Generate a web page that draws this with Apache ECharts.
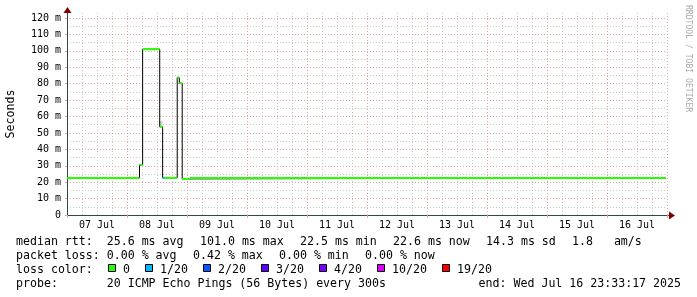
<!DOCTYPE html>
<html><head><meta charset="utf-8">
<script src="https://cdn.jsdelivr.net/npm/echarts@6/dist/echarts.min.js"></script>
<style>html,body{margin:0;padding:0;background:#fff}#c{width:697px;height:297px}</style>
</head><body><div id="c"></div>
<script>
// ---- data ----
const segmentStarts = ['2025-07-07 00:00','2025-07-08 05:00','2025-07-08 06:15','2025-07-08 13:05','2025-07-08 14:15','2025-07-08 14:55','2025-07-08 20:05','2025-07-08 20:55','2025-07-08 22:05','2025-07-09 01:10'];
const seriesEnd = '2025-07-16 23:33';
const medianMs = [22.6, 30.5, 101.0, 53.7, 22.6, 22.6, 83.7, 80.3, 22.0, 22.6];
const segmentLoss = [0, 0, 0, 0, 1, 0, 0, 0, 0, 0];          // index into lossLabels
const smokeTopMs = [null, null, null, 57.3, null, null, null, null, null, null];
const axisStart = '2025-07-07 00:00';
const axisEnd = '2025-07-17 00:00';
const dayLabels = ['07 Jul','08 Jul','09 Jul','10 Jul','11 Jul','12 Jul','13 Jul','14 Jul','15 Jul','16 Jul'];
const yTickLabels = ['0','10 m','20 m','30 m','40 m','50 m','60 m','70 m','80 m','90 m','100 m','110 m','120 m'];
const lossLabels = ['0','1/20','2/20','3/20','4/20','10/20','19/20'];
const lossColors = ['#26ff00','#00b8ff','#0059ff','#5e00ff','#7e00ff','#dd00ff','#ff0000'];
const rttRow = ['median rtt:  25.6 ms avg','101.0 ms max','22.5 ms min','22.6 ms now','14.3 ms sd','1.8   am/s'];
const lossRow = ['packet loss: 0.00 % avg','0.42 % max','0.00 % min','0.00 % now'];
const lossColorTitle = 'loss color:';
const probeText = 'probe:       20 ICMP Echo Pings (56 Bytes) every 300s';
const endText = 'end: Wed Jul 16 23:33:17 2025';
const yAxisName = 'Seconds';
const watermark = 'RRDTOOL / TOBI OETIKER';

// ---- helpers ----
const HOUR = 3600000, DAY = 24 * HOUR;
function ts(s){const [d,t]=s.split(' ');const [Y,M,D]=d.split('-').map(Number);const [h,m]=t.split(':').map(Number);return Date.UTC(Y,M-1,D,h,m);}
const xMin = ts(axisStart), xMax = ts(axisEnd);
const n = segmentStarts.length;
const segs = segmentStarts.map((s,i)=>({t0:ts(s), t1:ts(i+1<n?segmentStarts[i+1]:seriesEnd), v:medianMs[i], loss:segmentLoss[i], top:smokeTopMs[i]}));
const linePts = [];
segs.forEach(s=>{linePts.push([s.t0,s.v],[s.t1,s.v]);});
const colorSegs = segs.map(s=>[s.t0,s.t1,s.v,s.loss]);
const smokeSegs = segs.filter(s=>s.top!=null).map(s=>[s.t0,s.t1,s.v,s.top]);

// ---- layout ----
const GL = 67, GW = 600, AXY = 215, PXM = 197/120;
const MONO = '"DejaVu Sans Mono"';
const LF = '11.6px ' + MONO, CW = 7.0, GAP = 16, LEFT = 16;
const rowY = [241.8, 256.0, 269.9, 284.3];
const GRAY = '#c8c8c8', RED = '#e6a4a4', AXIS = '#2c4d43', ARROW = '#800000';
const DASH = [1,2];

const graphic = [];
function flowRow(items, y){let x=LEFT;items.forEach(t=>{graphic.push({type:'text',x:x,y:y,silent:true,style:{text:t,font:LF,fill:'#000',align:'left',verticalAlign:'middle',textAlign:'left',textVerticalAlign:'middle'}});x+=t.length*CW+GAP;});}
flowRow(rttRow,rowY[0]);
flowRow(lossRow,rowY[1]);
graphic.push({type:'text',x:LEFT,y:rowY[2],silent:true,style:{text:lossColorTitle,font:LF,fill:'#000',align:'left',verticalAlign:'middle',textAlign:'left',textVerticalAlign:'middle'}});
{let x=108;lossLabels.forEach((l,i)=>{
  graphic.push({type:'rect',silent:true,shape:{x:x+0.5,y:264.5,width:7,height:7},style:{fill:lossColors[i],stroke:'#000',lineWidth:1}});
  graphic.push({type:'text',x:x+15,y:rowY[2],silent:true,style:{text:l,font:LF,fill:'#000',align:'left',verticalAlign:'middle',textAlign:'left',textVerticalAlign:'middle'}});
  x+=30+l.length*CW;});}
graphic.push({type:'text',x:LEFT,y:rowY[3],silent:true,style:{text:probeText,font:LF,fill:'#000',align:'left',verticalAlign:'middle',textAlign:'left',textVerticalAlign:'middle'}});
graphic.push({type:'text',x:681,y:rowY[3],silent:true,style:{text:endText,font:LF,fill:'#000',align:'right',verticalAlign:'middle',textAlign:'right',textVerticalAlign:'middle'}});
graphic.push({type:'text',x:11,y:114,rotation:Math.PI/2,silent:true,style:{text:yAxisName,font:'11.6px '+MONO,fill:'#000',align:'center',verticalAlign:'middle',textAlign:'center',textVerticalAlign:'middle'}});
graphic.push({type:'text',x:688,y:5,rotation:-Math.PI/2,silent:true,style:{text:watermark,font:'8.1px '+MONO,fill:'#aaaaaa',align:'left',verticalAlign:'middle',textAlign:'left',textVerticalAlign:'middle'}});
// axis arrows
graphic.push({type:'line',silent:true,shape:{x1:GL+GW,y1:AXY+0.5,x2:670,y2:AXY+0.5},style:{stroke:AXIS,lineWidth:1}});
graphic.push({type:'polygon',silent:true,shape:{points:[[669,211.5],[675,215.5],[669,219.5]]},style:{fill:ARROW}});
graphic.push({type:'polygon',silent:true,shape:{points:[[63.5,13],[67.5,7],[71.5,13]]},style:{fill:ARROW}});

const chart = echarts.init(document.getElementById('c'), null, {renderer:'canvas'});
chart.setOption({
  animation:false,
  backgroundColor:'#ffffff',
  grid:[
    {left:GL, top:13, width:GW, height:AXY-13, containLabel:false},
    {left:GL, top:18, width:GW, height:AXY-18, containLabel:false}
  ],
  xAxis:[
    {type:'value', gridIndex:0, position:'bottom', min:xMin, max:xMax, interval:6*HOUR, z:0,
     axisLine:{show:false}, axisTick:{show:false}, axisLabel:{show:false},
     splitLine:{show:true, lineStyle:{color:GRAY, width:1, type:DASH}}},
    {type:'value', gridIndex:0, position:'bottom', min:xMin, max:xMax, interval:DAY, z:1,
     axisLine:{show:true, onZero:false, lineStyle:{color:AXIS, width:1}},
     axisTick:{show:true, length:3, lineStyle:{color:RED}}, axisLabel:{show:false},
     splitLine:{show:true, lineStyle:{color:RED, width:1, type:DASH}}},
    {type:'value', gridIndex:0, position:'bottom', min:xMin, max:xMax, interval:12*HOUR, z:1,
     axisLine:{show:false, onZero:false}, axisTick:{show:false}, splitLine:{show:false},
     axisLabel:{show:true, interval:0, hideOverlap:false, margin:5, color:'#000', fontFamily:'DejaVu Sans Mono', fontSize:10,
       formatter:function(v){const d=new Date(v);if(d.getUTCHours()!==12)return '';return dayLabels[Math.floor((v-xMin)/DAY)]||'';}}},
    {type:'value', gridIndex:1, position:'bottom', min:xMin, max:xMax, show:false}
  ],
  yAxis:[
    {type:'value', gridIndex:0, position:'left', min:0, max:(AXY-13)/PXM, z:1,
     axisLine:{show:true, onZero:false, lineStyle:{color:AXIS, width:1}}, axisTick:{show:false}, axisLabel:{show:false}, splitLine:{show:false}},
    {type:'value', gridIndex:1, position:'left', min:0, max:120, interval:10, z:1,
     axisLine:{show:false, onZero:false}, axisTick:{show:true, length:2, lineStyle:{color:RED}},
     axisLabel:{show:true, margin:6, color:'#000', fontFamily:'DejaVu Sans Mono', fontSize:10,
       formatter:function(v){const i=Math.round(v/10);return (Math.abs(v-i*10)<1e-6 && yTickLabels[i]!=null)?yTickLabels[i]:'';}},
     splitLine:{show:true, lineStyle:{color:RED, width:1, type:DASH}}},
    {type:'value', gridIndex:1, position:'left', min:0, max:120, interval:5, z:0,
     axisLine:{show:false, onZero:false}, axisTick:{show:false}, axisLabel:{show:false},
     splitLine:{show:true, lineStyle:{color:GRAY, width:1, type:DASH}}}
  ],
  series:[
    {type:'custom', xAxisIndex:0, yAxisIndex:0, data:smokeSegs, silent:true, z:2,
     encode:{x:[0,1], y:[2,3]},
     renderItem:function(p,api){const a=api.coord([api.value(0),api.value(3)]);const b=api.coord([api.value(1),api.value(2)]);
       return {type:'rect', shape:{x:a[0],y:a[1],width:b[0]-a[0],height:b[1]-a[1]}, style:{fill:'#d4d4d4'}};}},
    {type:'line', xAxisIndex:0, yAxisIndex:0, data:linePts, showSymbol:false, symbol:'none', silent:true, z:3,
     lineStyle:{color:'#000', width:1}},
    {type:'custom', xAxisIndex:0, yAxisIndex:0, data:colorSegs, silent:true, z:4,
     encode:{x:[0,1], y:[2]},
     renderItem:function(p,api){const a=api.coord([api.value(0),api.value(2)]);const b=api.coord([api.value(1),api.value(2)]);
       return {type:'line', shape:{x1:a[0],y1:a[1],x2:b[0],y2:b[1]}, style:{stroke:lossColors[api.value(3)], lineWidth:2}};}}
  ],
  graphic:graphic
});
</script>
</body></html>
